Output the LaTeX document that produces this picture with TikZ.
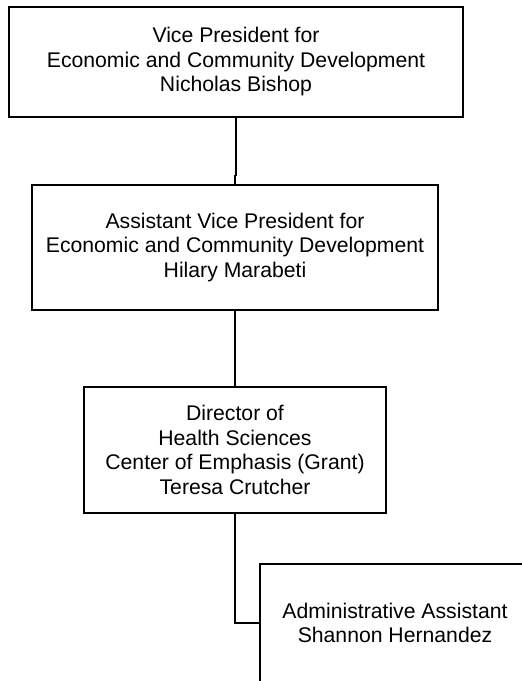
\documentclass[tikz,border=0pt]{standalone}
\usepackage{fontspec}
\setmainfont{Liberation Sans}
\usepackage{tikz}

\tikzset{
  orgbox/.style={draw, line width=1.2pt, rectangle, align=center,
    inner sep=0pt, font=\fontsize{21.2}{24.5}\selectfont},
  link/.style={line width=1.2pt}
}

\begin{document}
\begin{tikzpicture}[x=1pt, y=-1pt]
  \useasboundingbox (0,0) rectangle (522,681);
  \clip (0,0) rectangle (522,681);

  \node[orgbox, minimum width=454pt, minimum height=110pt] (vp) at (236,62)
    {Vice President for\\Economic and Community Development\\Nicholas Bishop};
  \node[orgbox, minimum width=406pt, minimum height=125pt] (avp) at (235,247.5)
    {Assistant Vice President for\\Economic and Community Development\\Hilary Marabeti};
  \node[orgbox, minimum width=302pt, minimum height=126pt] (dir) at (235,450)
    {Director of\\Health Sciences\\Center of Emphasis (Grant)\\Teresa Crutcher};
  \node[orgbox, minimum width=270pt, minimum height=118pt] (asst) at (395,623)
    {Administrative Assistant\\Shannon Hernandez};

  \draw[link] (vp.south) -- ++(0,58) -| (avp.north);
  \draw[link] (avp.south) -- (dir.north);
  \draw[link] (dir.south) |- (asst.west);
\end{tikzpicture}
\end{document}
